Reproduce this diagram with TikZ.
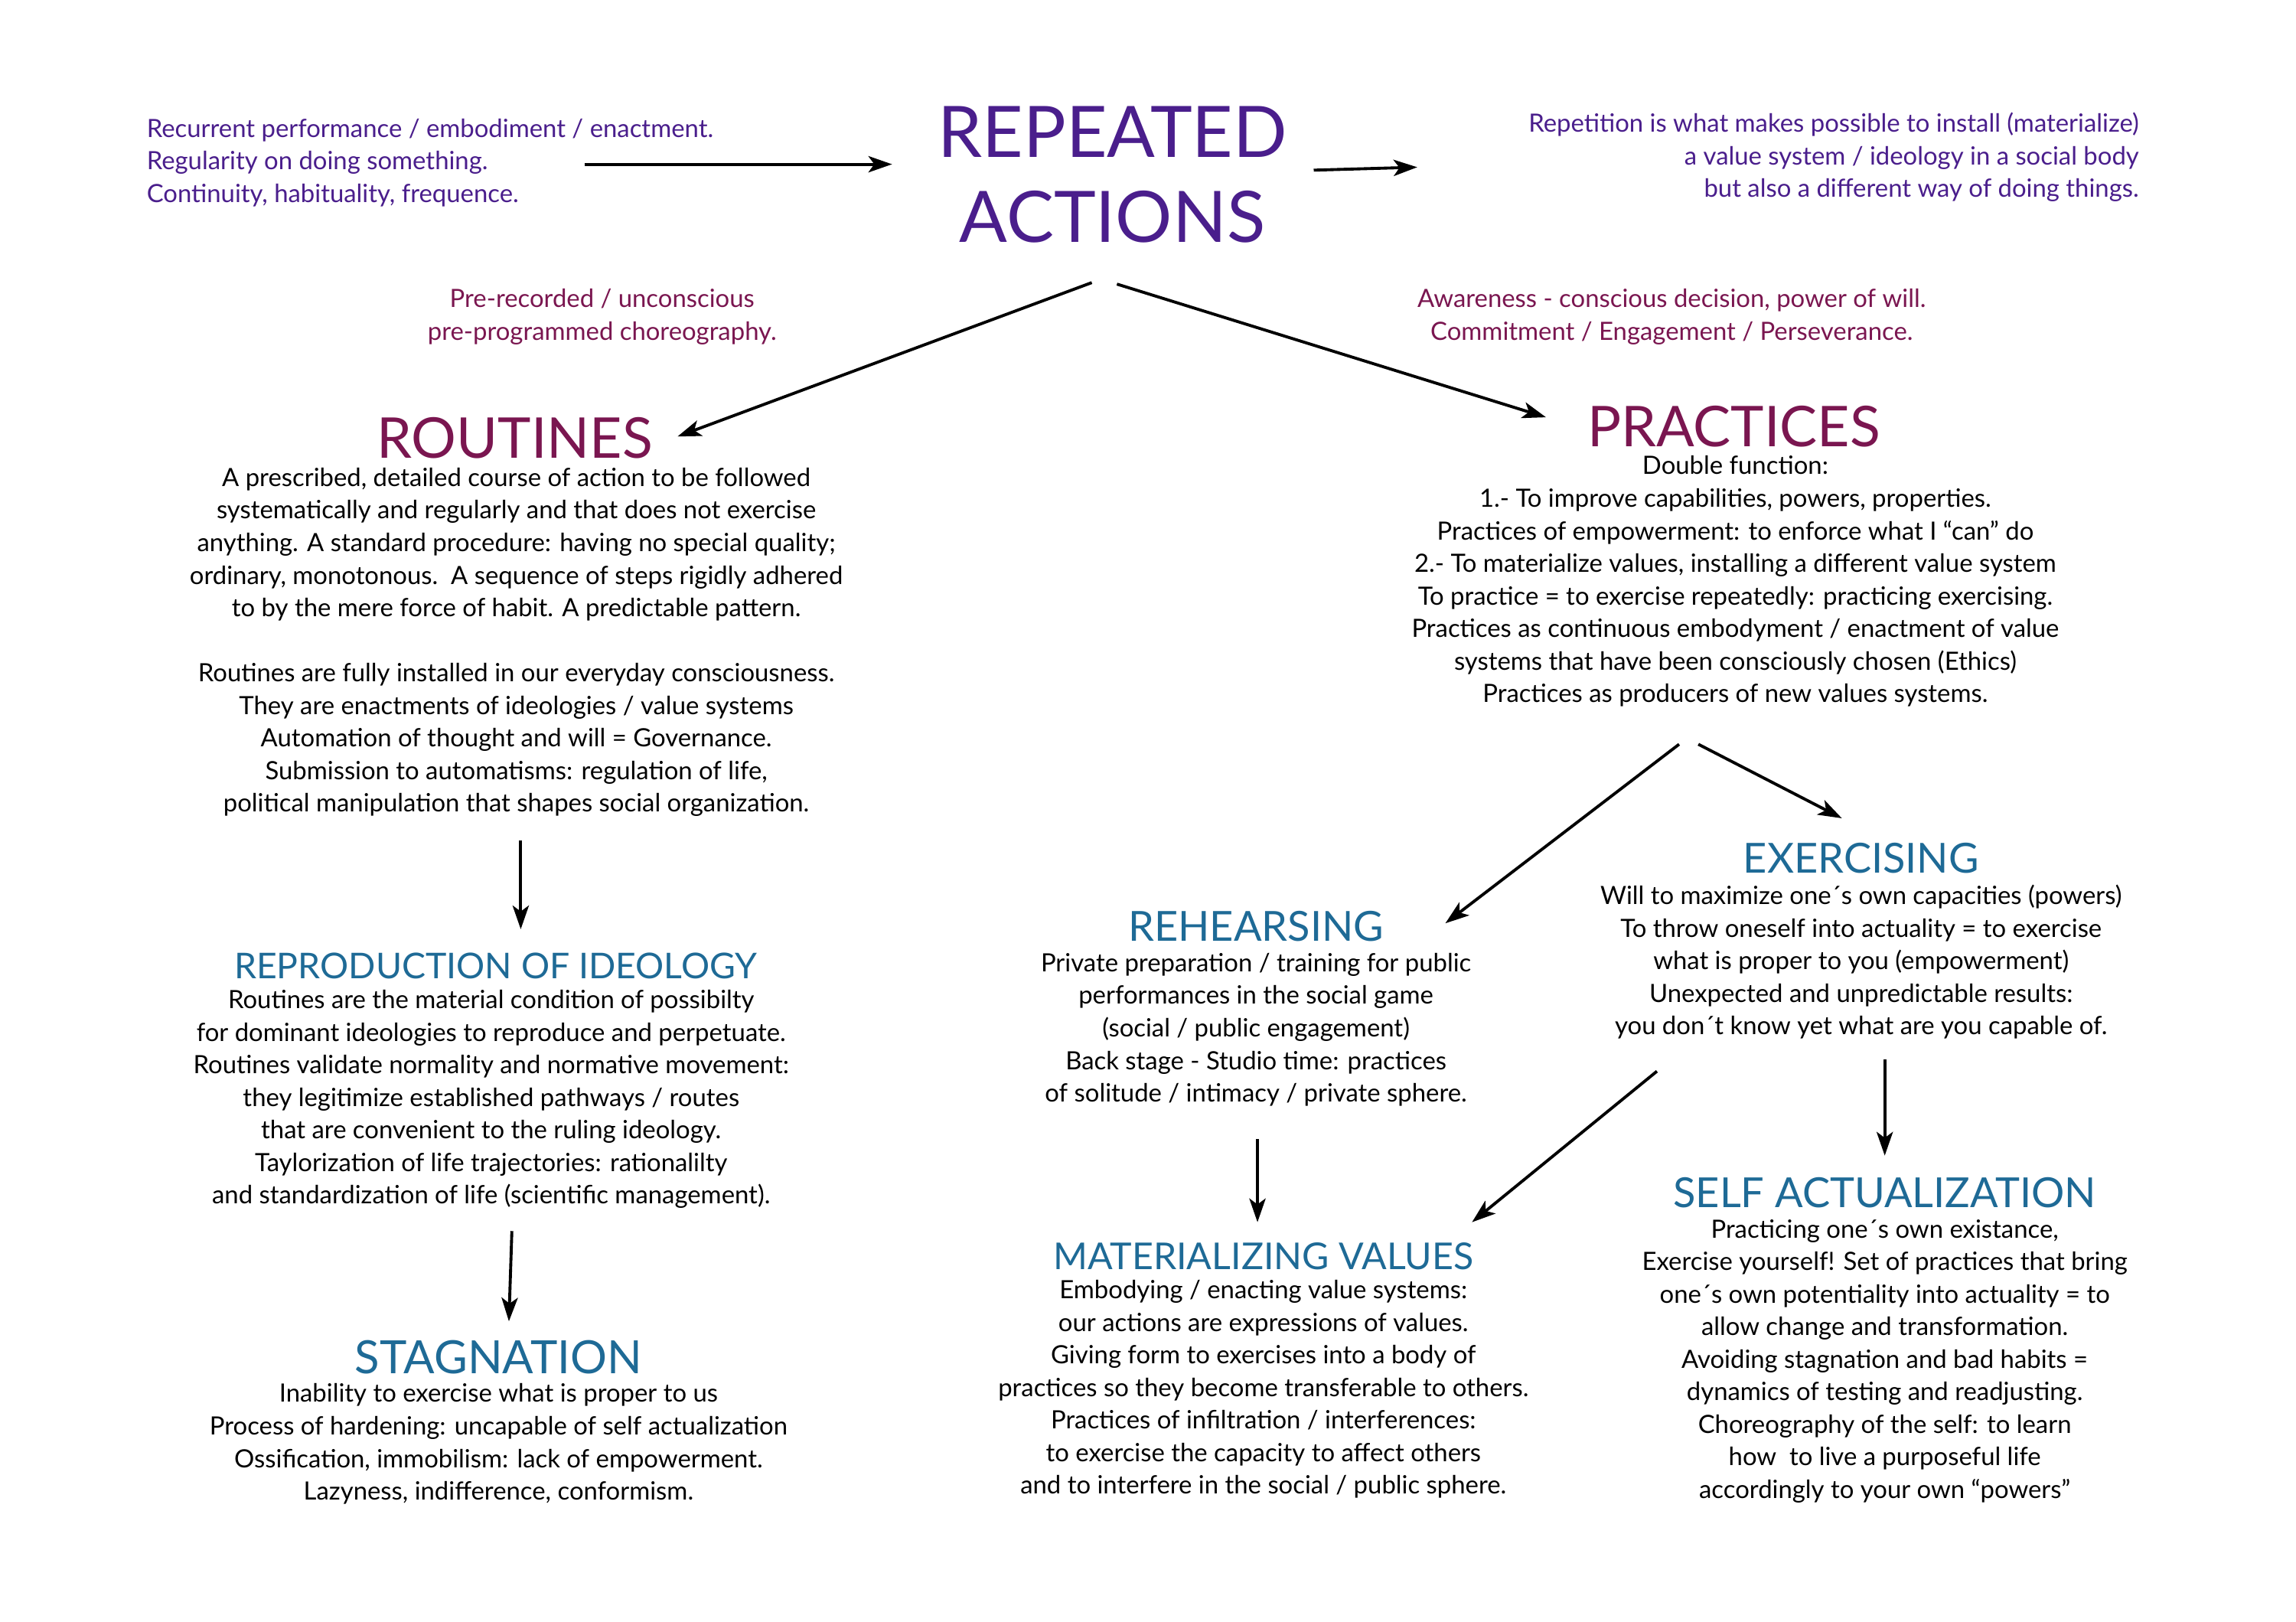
\documentclass[tikz,border=0pt]{standalone}
\usepackage{fontspec}
\setmainfont{Lato}
\usetikzlibrary{arrows.meta}
\definecolor{cpur}{HTML}{4A1E8C}
\definecolor{cmar}{HTML}{7A1650}
\definecolor{cblu}{HTML}{1E6A96}
\begin{document}
\begin{tikzpicture}[x=1pt,y=-1pt,
 body/.style={inner sep=0pt,align=center,anchor=north,font=\fontsize{17}{22}\selectfont},
 sidetext/.style={inner sep=0pt,font=\fontsize{17}{22}\selectfont},
 bigtitle/.style={inner sep=0pt,font=\fontsize{38}{40}\selectfont,text=cmar},
 subtitle/.style={inner sep=0pt,font=\fontsize{28}{30}\selectfont,text=cblu},
 arr/.style={line width=2pt,-{Stealth[length=16pt,width=11pt,inset=4pt]}}]
\fill[white] (0,0) rectangle (1552,1096);
\node[inner sep=0pt,align=center,text=cpur,font=\fontsize{48}{57}\selectfont] (ra) at (752,118) {REPEATED\\ACTIONS};
\node[sidetext,align=left,anchor=north west,text=cpur] (lt) at (99,80) {Recurrent performance / embodiment / enactment.\\Regularity on doing something.\\Continuity, habituality, frequence.};
\node[sidetext,align=right,anchor=north east,text=cpur] (rt) at (1446,76) {Repetition is what makes possible to install (materialize)\\a value system / ideology in a social body\\but also a different way of doing things.};
\node[sidetext,align=center,anchor=north,text=cmar] (pre) at (407,195) {Pre-recorded / unconscious\\pre-programmed choreography.};
\node[sidetext,align=center,anchor=north,text=cmar] (aw) at (1130,195) {Awareness - conscious decision, power of will.\\Commitment / Engagement / Perseverance.};
\coordinate (a1s) at (395,111); \coordinate (a1e) at (603,111);
\coordinate (a2s) at (888,115); \coordinate (a2e) at (958,113);
\draw[arr] (a1s) -- (a1e);
\draw[arr] (a2s) -- (a2e);
\coordinate (b1s) at (738,191); \coordinate (b1e) at (458,295);
\coordinate (b2s) at (755,192); \coordinate (b2e) at (1045,282);
\draw[arr] (b1s) -- (b1e);
\draw[arr] (b2s) -- (b2e);
% Routines
\node[bigtitle] (rou) at (348,296) {ROUTINES};
\node[body] (roub) at (349,316) {A prescribed, detailed course of action to be followed\\systematically and regularly and that does not exercise\\anything. A standard procedure: having no special quality;\\ordinary, monotonous.\ \ A sequence of steps rigidly adhered\\to by the mere force of habit. A predictable pattern.\\[22pt]Routines are fully installed in our everyday consciousness.\\They are enactments of ideologies / value systems\\Automation of thought and will = Governance.\\Submission to automatisms: regulation of life,\\political manipulation that shapes social organization.};
\coordinate (c1s) at (352,568); \coordinate (c1e) at (352,628);
\draw[arr] (c1s) -- (c1e);
\node[subtitle,font=\fontsize{24}{26}\selectfont] (rep) at (335,653) {REPRODUCTION OF IDEOLOGY};
\node[body] (repb) at (332,669) {Routines are the material condition of possibilty\\for dominant ideologies to reproduce and perpetuate.\\Routines validate normality and normative movement:\\they legitimize established pathways / routes\\that are convenient to the ruling ideology.\\Taylorization of life trajectories: rationalilty\\and standardization of life (scientific management).};
\coordinate (c2s) at (346,832); \coordinate (c2e) at (344,893);
\draw[arr] (c2s) -- (c2e);
\node[subtitle,font=\fontsize{31}{33}\selectfont] (sta) at (337,917) {STAGNATION};
\node[body] (stab) at (337,935) {Inability to exercise what is proper to us\\Process of hardening: uncapable of self actualization\\Ossification, immobilism: lack of empowerment.\\Lazyness, indifference, conformism.};
% Practices
\node[bigtitle] (pra) at (1172,288) {PRACTICES};
\node[body] (prab) at (1173,308) {Double function:\\1.- To improve capabilities, powers, properties.\\Practices of empowerment: to enforce what I “can” do\\2.- To materialize values, installing a different value system\\To practice = to exercise repeatedly: practicing exercising.\\Practices as continuous embodyment / enactment of value\\systems that have been consciously chosen (Ethics)\\Practices as producers of new values systems.};
\coordinate (d1s) at (1135,503); \coordinate (d1e) at (977,624);
\coordinate (d2s) at (1148,503); \coordinate (d2e) at (1245,553);
\draw[arr] (d1s) -- (d1e);
\draw[arr] (d2s) -- (d2e);
\node[subtitle] (exe) at (1258,580) {EXERCISING};
\node[body] (exeb) at (1258,598) {Will to maximize one´s own capacities (powers)\\To throw oneself into actuality = to exercise\\what is proper to you (empowerment)\\Unexpected and unpredictable results:\\you don´t know yet what are you capable of.};
\node[subtitle] (reh) at (849,626) {REHEARSING};
\node[body] (rehb) at (849,644) {Private preparation / training for public\\performances in the social game\\(social / public engagement)\\Back stage - Studio time: practices\\of solitude / intimacy / private sphere.};
\coordinate (e1s) at (850,770); \coordinate (e1e) at (850,826);
\draw[arr] (e1s) -- (e1e);
\coordinate (e2s) at (1120,724); \coordinate (e2e) at (995,826);
\draw[arr] (e2s) -- (e2e);
\coordinate (e3s) at (1274,716); \coordinate (e3e) at (1274,781);
\draw[arr] (e3s) -- (e3e);
\node[subtitle,font=\fontsize{25}{27}\selectfont] (mat) at (854,849) {MATERIALIZING VALUES};
\node[body] (matb) at (854,865) {Embodying / enacting value systems:\\our actions are expressions of values.\\Giving form to exercises into a body of\\practices so they become transferable to others.\\Practices of infiltration / interferences:\\to exercise the capacity to affect others\\and to interfere in the social / public sphere.};
\node[subtitle] (sel) at (1274,806) {SELF ACTUALIZATION};
\node[body] (selb) at (1274,824) {Practicing one´s own existance,\\Exercise yourself! Set of practices that bring\\one´s own potentiality into actuality = to\\allow change and transformation.\\Avoiding stagnation and bad habits =\\dynamics of testing and readjusting.\\Choreography of the self: to learn\\how\ \ to live a purposeful life\\accordingly to your own “powers”};
\end{tikzpicture}
\end{document}
